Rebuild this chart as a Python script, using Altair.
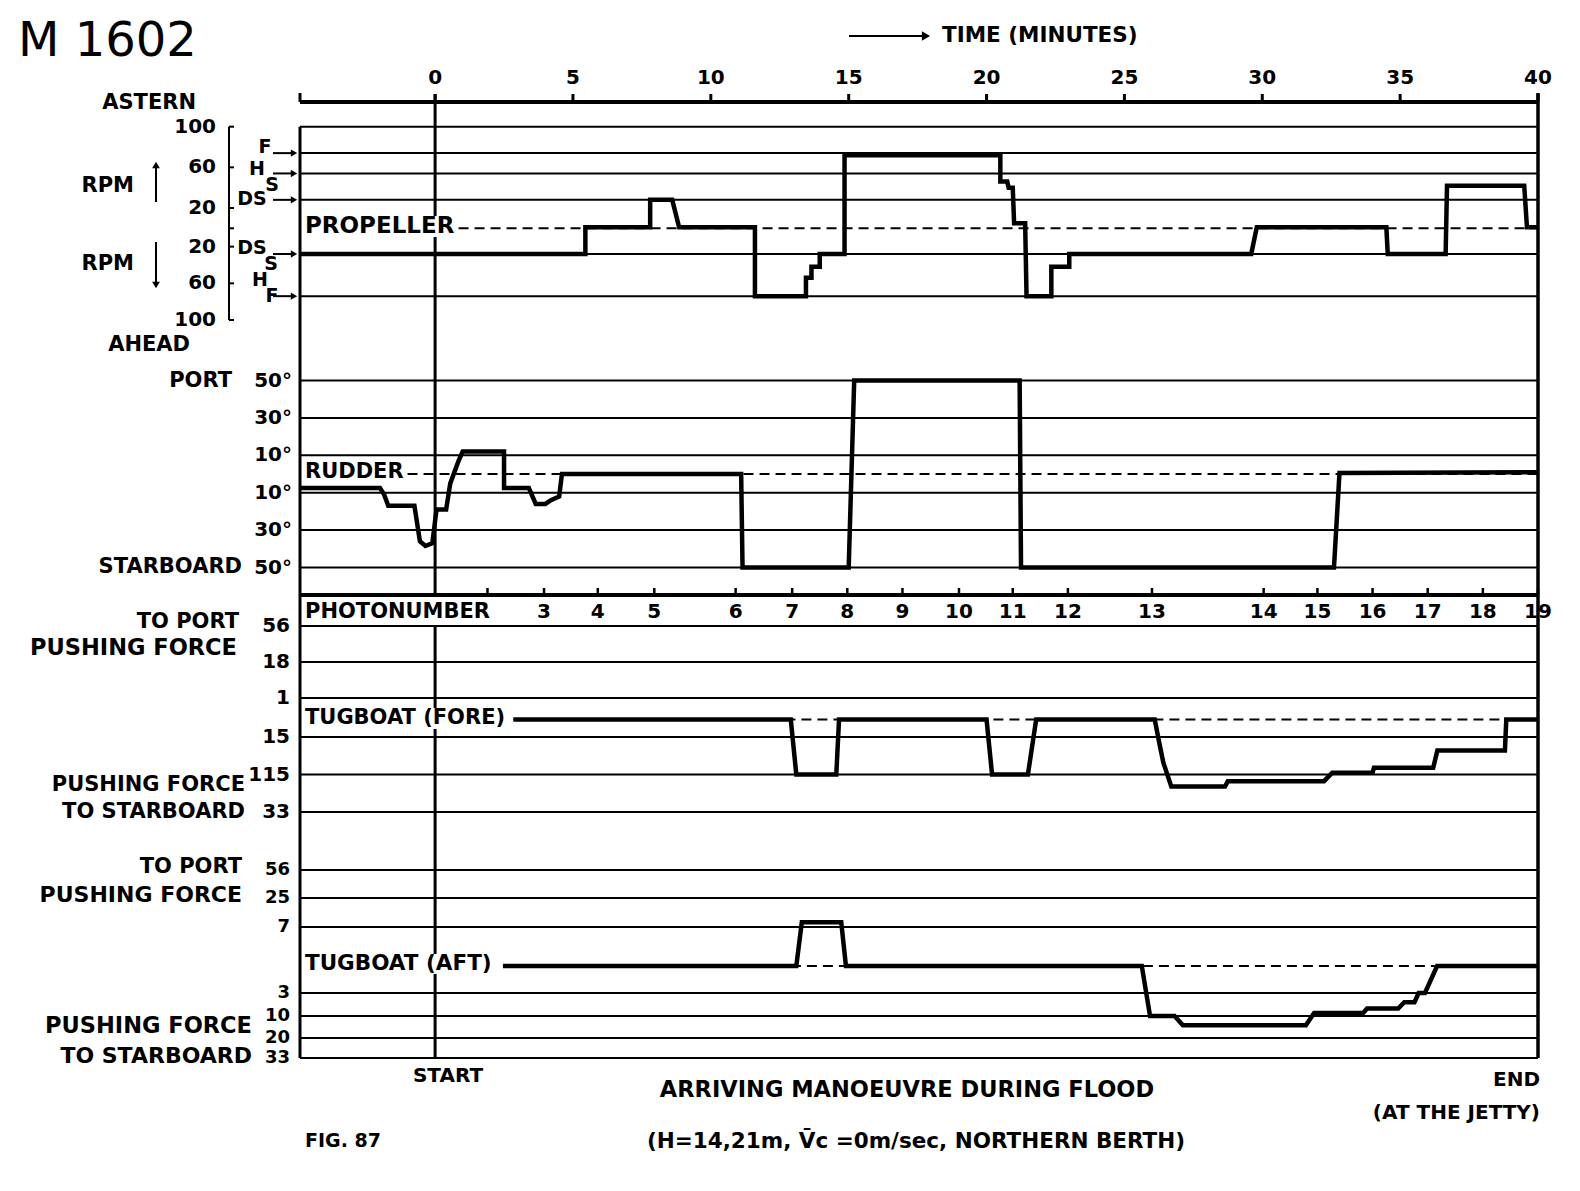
import altair as alt
import pandas as pd

FONT = "DejaVu Sans"
W, H = 1238, 956

# ---------------- data ----------------
time_ticks = [0, 5, 10, 15, 20, 25, 30, 35, 40]
t_start, t_end = -4.9, 40

# propeller (RPM, astern positive, ahead negative)
prop_t = [-4.9, 5.45, 5.45, 7.8, 7.8, 8.6, 8.85, 11.6, 11.6, 13.45, 13.45, 13.65, 13.65,
          13.95, 13.95, 14.85, 14.85, 20.5, 20.5, 20.75, 20.8, 20.95, 21.0, 21.4, 21.45,
          22.35, 22.35, 23.0, 23.0, 29.6, 29.8, 34.5, 34.55, 36.65, 36.7, 39.5, 39.6, 40.0]
prop_v = [-28, -28, 1, 1, 28, 28, 1, 1, -74, -74, -54, -54, -42, -42, -28, -28, 72, 72,
          46, 46, 40, 40, 5, 5, -74, -74, -42, -42, -28, -28, 1, 1, -28, -28, 42, 42, 1, 1]
prop_grid = [100, 74, 54, 28, -28, -74]
prop_tick_vals = [100, 60, 20, -20, -60, -100]
prop_tick_text = ["100", "60", "20", "20", "60", "100"]
prop_arrow_vals = [74, 54, 28, -28, -74]

# rudder (degrees, port positive)
rud_t = [-4.9, -2.0, -1.85, -1.7, -0.75, -0.55, -0.35, -0.1, 0.05, 0.4, 0.55, 0.85, 1.0,
         2.5, 2.5, 3.4, 3.65, 4.0, 4.2, 4.5, 4.6, 11.1, 11.15, 15.0, 15.2, 21.2, 21.25,
         32.6, 32.8, 40.0]
rud_v = [-7.5, -7.5, -11, -17, -17, -36, -38.5, -37, -19, -19, -5, 7, 12, 12, -7.5, -7.5,
         -16, -16, -14, -12, 0, 0, -50, -50, 50, 50, -50, -50, 0.5, 1]
rud_grid = [50, 30, 10, -10, -30, -50]
rud_tick_text = ["50°", "30°", "10°", "10°", "30°", "50°"]

# tugboat fore (pushing force, to port positive)
fore_t = [2.84, 12.9, 13.1, 14.55, 14.65, 20.0, 20.2, 21.5, 21.8, 26.1, 26.26, 26.41, 26.7,
          28.65, 28.75, 32.24, 32.54, 34.0, 34.05, 36.2, 36.35, 38.8, 38.85, 40.0]
fore_v = [0, 0, -11.5, -11.5, 0, 0, -11.5, -11.5, 0, 0, -2.9, -8.3, -18.4, -18.4, -15.3,
          -15.3, -11, -11, -9.7, -9.7, -5.1, -5.1, 0, 0]
fore_grid = [56, 18, 1, -1.5, -11.5, -33]
fore_tick_text = ["56", "18", "1", "15", "115", "33"]

# tugboat aft
aft_t = [2.46, 13.1, 13.3, 14.73, 14.9, 25.63, 25.93, 26.82, 27.12, 31.58, 31.88, 33.66,
         33.8, 34.93, 35.15, 35.52, 35.67, 35.9, 36.34, 40.0]
aft_v = [0, 0, 10, 10, 0, 0, -10, -10, -14.2, -14.2, -9.1, -9.1, -7.7, -7.7, -5.8, -5.8,
         -3, -3, 0, 0]
aft_grid = [56, 25, 7, -3, -10, -20, -33]
aft_tick_text = ["56", "25", "7", "3", "10", "20", "33"]

# photo numbers
photo_t = [1.9, 3.95, 5.9, 7.95, 10.9, 12.95, 14.95, 16.95, 19.0, 20.95, 22.95, 26.0,
           30.05, 32.0, 34.0, 36.0, 38.0, 40.0]
photo_lbl = ["", "3", "4", "5", "6", "7", "8", "9", "10", "11", "12", "13", "14", "15",
             "16", "17", "18", "19"]

# ---------------- scales (layout) ----------------
XS = alt.Scale(domain=[t_start, t_end], nice=False, zero=False)
PROP_S = alt.Scale(domain=[-100, 0, 100], range=[218, 126.3, 24.7], nice=False, zero=False)
RUD_S = alt.Scale(domain=[-50, 50], range=[465.5, 278.5], nice=False, zero=False)
FORE_S = alt.Scale(domain=[-33, -11.5, -1.5, 0, 1, 18, 56],
                   range=[710, 672.5, 635, 617.5, 596, 560, 524], nice=False, zero=False)
AFT_S = alt.Scale(domain=[-33, -20, -10, -3, 0, 7, 25, 56],
                  range=[956, 936, 914, 891, 864, 825, 796, 768], nice=False, zero=False)

ONE = alt.Data(values=[{"k": 0}])
layers = []


def X(field="t"):
    return alt.X(f"{field}:Q", scale=XS, axis=None)


def Y(field, scale):
    return alt.Y(f"{field}:Q", scale=scale, axis=None)


def txt(s, x, y, size=21, align="left", weight="bold", baseline="middle", font=FONT):
    return alt.Chart(ONE).mark_text(text=s, align=align, baseline=baseline, fontSize=size,
                                    font=font, fontWeight=weight, color="black").encode(
        x=alt.value(x), y=alt.value(y))


def vrule(x, y1, y2, w=3, color="black"):
    return alt.Chart(ONE).mark_rule(color=color, strokeWidth=w).encode(
        x=alt.value(x), y=alt.value(y1), y2=alt.value(y2))


def hrule(x1, x2, y, w=2):
    return alt.Chart(ONE).mark_rule(color="black", strokeWidth=w).encode(
        x=alt.value(x1), x2=alt.value(x2), y=alt.value(y))


def tri(shape, x, y, size=70):
    return alt.Chart(ONE).mark_point(shape=shape, filled=True, size=size, color="black",
                                     opacity=1).encode(x=alt.value(x), y=alt.value(y))


def zero_seg(y1, y2, w=3, color="black"):
    return alt.Chart(ONE).mark_rule(color=color, strokeWidth=w).encode(
        x=alt.XDatum(0, scale=XS, axis=None), y=alt.value(y1), y2=alt.value(y2))


def grid(vals, scale):
    return alt.Chart(pd.DataFrame({"g": vals})).mark_rule(color="black", strokeWidth=2).encode(
        y=Y("g", scale))


def dashed(t0, scale):
    return alt.Chart(ONE).mark_rule(color="black", strokeWidth=2, strokeDash=[10, 6]).encode(
        x=alt.XDatum(t0, scale=XS, axis=None), x2=alt.X2Datum(t_end),
        y=alt.YDatum(0, scale=scale, axis=None))


def series(ts, vs, scale):
    df = pd.DataFrame({"t": ts, "v": vs, "i": list(range(len(ts)))})
    return alt.Chart(df).mark_line(color="black", strokeWidth=4.5, strokeJoin="miter",
                                   strokeCap="butt").encode(
        x=X(), y=Y("v", scale), order=alt.Order("i:Q"))


def ticklabels(vals, texts, scale, x, size=20):
    df = pd.DataFrame({"v": vals, "s": texts})
    return alt.Chart(df).mark_text(align="right", baseline="middle", fontSize=size, font=FONT,
                                   fontWeight="bold", color="black").encode(
        x=alt.value(x), y=Y("v", scale), text="s:N")


# ---- top time axis (drawn through the x scale) ----
tt = pd.DataFrame({"t": time_ticks, "s": [str(v) for v in time_ticks]})
layers.append(hrule(0, W, 0, 4))
layers.append(vrule(0, -9, 0, 3))
layers.append(alt.Chart(tt).mark_rule(color="black", strokeWidth=3).encode(
    x=X(), y=alt.value(-8), y2=alt.value(0)))
layers.append(alt.Chart(tt).mark_text(fontSize=20, font=FONT, fontWeight="bold", color="black",
                                      baseline="middle").encode(
    x=X(), y=alt.value(-24), text="s:N"))

# ---- frame ----
layers.append(vrule(0, 24.7, H, 3))
layers.append(vrule(W, -9, H, 3.5))
layers.append(zero_seg(-8, 493))
layers.append(zero_seg(524, H))
# small gaps of the start line behind the panel labels
layers.append(zero_seg(114, 135, 6, "white"))
layers.append(zero_seg(606, 627, 6, "white"))
layers.append(zero_seg(852, 872, 6, "white"))

# ---- propeller panel ----
layers.append(grid(prop_grid, PROP_S))
layers.append(dashed(0.85, PROP_S))
layers.append(ticklabels(prop_tick_vals, prop_tick_text, PROP_S, -84))
arr = pd.DataFrame({"v": prop_arrow_vals})
layers.append(alt.Chart(arr).mark_rule(color="black", strokeWidth=2).encode(
    x=alt.value(-27), x2=alt.value(-6), y=Y("v", PROP_S)))
layers.append(alt.Chart(arr).mark_point(shape="triangle-right", filled=True, size=55,
                                        color="black", opacity=1).encode(
    x=alt.value(-6), y=Y("v", PROP_S)))
# bracket
layers.append(alt.Chart(ONE).mark_rule(color="black", strokeWidth=2).encode(
    x=alt.value(-71), y=alt.YDatum(100, scale=PROP_S, axis=None), y2=alt.Y2Datum(-100)))
layers.append(alt.Chart(pd.DataFrame({"v": prop_tick_vals + [0]})).mark_rule(
    color="black", strokeWidth=2).encode(x=alt.value(-71), x2=alt.value(-66), y=Y("v", PROP_S)))
layers.append(series(prop_t, prop_v, PROP_S))

# ---- rudder panel ----
layers.append(grid(rud_grid, RUD_S))
layers.append(dashed(-1.0, RUD_S))
layers.append(ticklabels(rud_grid, rud_tick_text, RUD_S, -8))
layers.append(series(rud_t, rud_v, RUD_S))

# ---- photonumber strip ----
layers.append(hrule(0, W, 493, 4))
ph = pd.DataFrame({"t": photo_t, "s": photo_lbl})
layers.append(alt.Chart(ph).mark_rule(color="black", strokeWidth=2.5).encode(
    x=X(), y=alt.value(486), y2=alt.value(493)))
layers.append(alt.Chart(ph).mark_text(fontSize=20, font=FONT, fontWeight="bold", color="black",
                                      baseline="middle").encode(
    x=X(), y=alt.value(510), text="s:N"))

# ---- tug fore ----
layers.append(grid(fore_grid, FORE_S))
layers.append(dashed(2.84, FORE_S))
layers.append(ticklabels(fore_grid, fore_tick_text, FORE_S, -10))
layers.append(series(fore_t, fore_v, FORE_S))

# ---- tug aft ----
layers.append(grid(aft_grid, AFT_S))
layers.append(dashed(2.46, AFT_S))
layers.append(ticklabels(aft_grid, aft_tick_text, AFT_S, -10, size=18))
layers.append(series(aft_t, aft_v, AFT_S))

# ---- annotations ----
ann = [
    txt("M 1602", -282, -60, size=48, weight="normal"),
    txt("TIME (MINUTES)", 642, -66, size=21.5),
    hrule(549, 624, -66, 2),
    tri("triangle-right", 626, -66, 90),
    txt("ASTERN", -104, 1, align="right"),
    txt("AHEAD", -110, 243, align="right"),
    txt("RPM", -166, 84, align="right"),
    txt("RPM", -166, 162, align="right"),
    vrule(-144, 64, 100, 2), tri("triangle-up", -144, 63, 60),
    vrule(-144, 140, 181, 2), tri("triangle-down", -144, 183, 60),
    txt("F", -35, 45, size=19, align="center"),
    txt("H", -43, 67, size=19, align="center"),
    txt("S", -28, 83, size=19, align="center"),
    txt("DS", -48, 97, size=19, align="center"),
    txt("DS", -48, 146, size=19, align="center"),
    txt("S", -29, 162, size=19, align="center"),
    txt("H", -40, 178, size=19, align="center"),
    txt("F", -28, 194, size=19, align="center"),
    txt("PROPELLER", 5, 124, size=23),
    txt("PORT", -68, 279, align="right"),
    txt("STARBOARD", -58, 465, align="right"),
    txt("RUDDER", 5, 370),
    txt("PHOTONUMBER", 5, 510, size=21),
    txt("TO PORT", -61, 520, align="right"),
    txt("PUSHING FORCE", -63, 546, align="right", size=22.5),
    txt("TUGBOAT (FORE)", 5, 616, size=21),
    txt("PUSHING FORCE", -55, 683, align="right"),
    txt("TO STARBOARD", -55, 710, align="right"),
    txt("TO PORT", -58, 765, align="right"),
    txt("PUSHING FORCE", -58, 793, align="right", size=22),
    txt("TUGBOAT (AFT)", 5, 862, size=21.5),
    txt("PUSHING FORCE", -48, 924, align="right", size=22.5),
    txt("TO STARBOARD", -48, 954, align="right", size=22),
    txt("START", 148, 974, align="center", size=20),
    txt("ARRIVING MANOEUVRE DURING FLOOD", 607, 988, align="center", size=22.5),
    txt("END", 1240, 978, align="right", size=20),
    txt("(AT THE JETTY)", 1240, 1011, align="right", size=20),
    txt("FIG. 87", 5, 1039, size=19),
    txt("(H=14,21m, V\u0304c =0m/sec, NORTHERN BERTH)", 616, 1040, align="center", size=21.5),
]
layers.extend(ann)

chart = alt.layer(*layers).resolve_scale(y="independent").properties(
    width=W, height=H,
    autosize=alt.AutoSizeParams(type="none"),
    padding={"left": 300, "top": 102, "right": 42, "bottom": 133},
    background="white",
).configure_view(stroke=None)

chart.save("out.html", embed_options={"renderer": "svg", "actions": False})
